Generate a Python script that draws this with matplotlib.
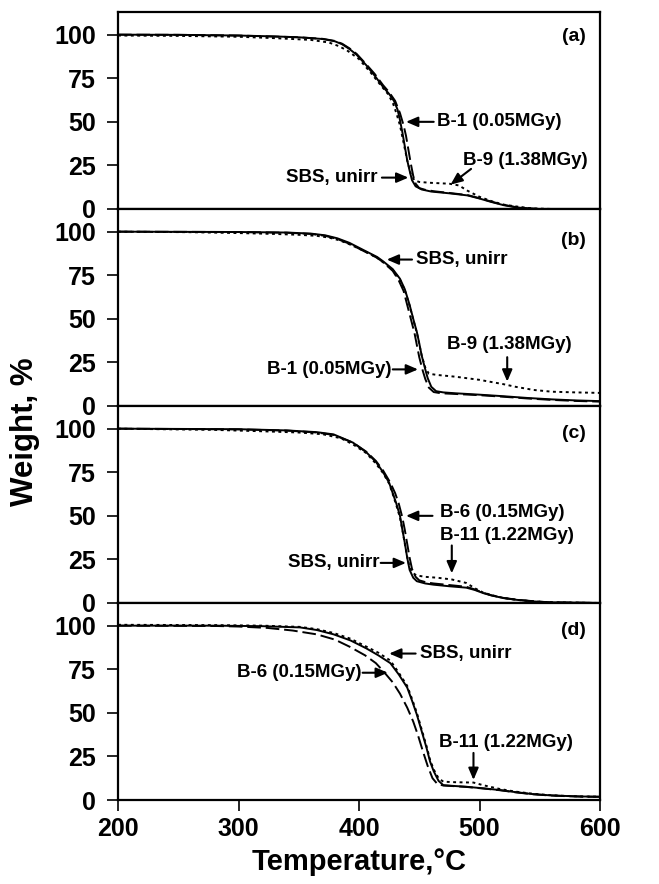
import matplotlib
matplotlib.use("Agg")
import matplotlib.pyplot as plt

plt.rcParams['font.family'] = ['Liberation Sans', 'DejaVu Sans']
plt.rcParams['font.weight'] = 'bold'

# ---- data (temperature in C, weight in %) ----
# panel (a): SBS unirr / B-1 (0.05MGy) / B-9 (1.38MGy)
a_sbs_t = [200, 250, 300, 330, 350, 370, 380, 386, 392, 398, 406, 413, 420, 425, 429, 432, 434, 436, 438, 440, 442, 444, 447, 452, 460, 475, 490, 500, 510, 520, 530, 540, 550, 600]
a_sbs_w = [100, 99.9, 99.5, 99, 98.5, 97.5, 96.2, 94.5, 91.8, 88.5, 82.5, 76.5, 70, 66, 62, 57, 51, 44, 36, 28, 22, 16.5, 13, 11.2, 10, 9, 7.8, 6, 4, 2.2, 1, 0.3, 0, 0]
a_b1_t = [200, 250, 300, 350, 370, 380, 386, 392, 398, 406, 413, 420, 425, 430, 434, 437, 439, 441, 443, 445, 447, 450, 455, 462, 475, 490, 500, 510, 520, 530, 540, 550, 600]
a_b1_w = [100, 99.9, 99.5, 98.5, 97.6, 96.4, 94.8, 92.2, 89, 83, 77.5, 71, 67, 62, 55, 48, 42, 34, 26, 19, 14.5, 12, 11, 10.2, 9.2, 8, 6.2, 4.2, 2.4, 1.1, 0.4, 0, 0]
a_b9_t = [200, 250, 300, 330, 360, 375, 383, 390, 400, 410, 418, 424, 428, 431, 434, 437, 440, 443, 446, 450, 460, 475, 483, 490, 500, 510, 520, 530, 540, 550, 560, 600]
a_b9_w = [99.5, 99.3, 98.8, 98, 97, 95.5, 93.5, 91, 86, 78, 71, 66, 61, 55, 48, 38, 28, 20, 16.5, 15.5, 15, 14.5, 13.5, 10.5, 7, 4.5, 2.5, 1.5, 0.6, 0.2, 0, 0]

# panel (b): SBS unirr / B-1 (0.05MGy) / B-9 (1.38MGy)
b_sbs_t = [200, 300, 340, 360, 372, 382, 392, 405, 415, 420, 428, 434, 438, 442, 445, 448, 450, 452, 455, 457, 460, 464, 470, 480, 500, 520, 540, 560, 580, 600]
b_sbs_w = [100, 99.8, 99.5, 98.9, 97.9, 96.2, 93.6, 89, 85.5, 83, 78.5, 73, 67, 58, 50, 42.5, 36, 29, 21, 16, 11, 8.5, 7.8, 7.3, 6.5, 5.6, 4.6, 3.8, 3.2, 2.8]
b_b1_t = [200, 300, 340, 360, 372, 382, 392, 405, 415, 420, 428, 433, 437, 440, 443, 446, 448, 450, 453, 455, 458, 462, 468, 480, 500, 520, 540, 560, 580, 600]
b_b1_w = [100, 99.8, 99.4, 98.7, 97.6, 95.8, 93.1, 88.5, 85, 82.5, 77.5, 72, 66, 58, 50, 42, 35, 28, 20, 15.5, 10.5, 8, 7.3, 6.9, 6.2, 5.3, 4.3, 3.5, 2.9, 2.5]
b_b9_t = [200, 260, 300, 330, 350, 365, 375, 384, 392, 405, 415, 420, 428, 434, 438, 442, 445, 448, 450, 452, 455, 458, 465, 480, 500, 520, 530, 545, 560, 580, 600]
b_b9_w = [100, 99.7, 99.2, 98.7, 98.2, 97.6, 96.6, 95, 92.8, 88.7, 85, 82.5, 78, 72.5, 66.5, 57.5, 49.5, 42, 35.5, 29, 22, 18.5, 17.8, 16.8, 15, 12.5, 11, 9.2, 8.2, 7.8, 7.5]

# panel (c): SBS unirr / B-6 (0.15MGy) / B-11 (1.22MGy)
c_sbs_t = [200, 300, 340, 365, 379, 395, 406, 414, 420, 425, 428, 431, 434, 436, 438, 440, 442, 445, 448, 455, 462, 475, 489, 496, 503, 510, 520, 531, 545, 558, 600]
c_sbs_w = [100, 99.7, 99, 98, 96.7, 92, 86.5, 81, 75, 69, 63, 57, 50, 42, 34.5, 26, 19, 14.5, 12.5, 11.2, 10.5, 9.6, 8.8, 7.5, 5.7, 4.3, 2.8, 1.8, 0.9, 0.4, 0]
c_b6_t = [200, 300, 340, 365, 379, 395, 406, 414, 420, 426, 430, 433, 436, 438, 440, 442, 444, 447, 450, 456, 462, 475, 489, 496, 503, 510, 520, 531, 545, 558, 600]
c_b6_w = [100, 99.6, 98.9, 97.8, 96.4, 92, 86.8, 81.5, 76, 69, 63, 57, 49, 42, 34, 26, 19.5, 15, 13, 11.8, 11.2, 10.3, 9.3, 7.8, 5.9, 4.4, 2.9, 1.9, 1, 0.4, 0]
c_b11_t = [200, 280, 320, 350, 370, 385, 395, 406, 414, 420, 425, 428, 431, 434, 436, 438, 440, 442, 445, 448, 455, 465, 477, 489, 496, 503, 510, 520, 531, 545, 558, 600]
c_b11_w = [100, 99.3, 98.5, 97.8, 96.8, 94.5, 91, 86, 80, 74.5, 68.5, 62.5, 56, 49, 42, 34, 26.5, 20.5, 17, 15.8, 15, 14.5, 13.5, 11.5, 8.5, 6, 4.5, 2.9, 1.8, 0.9, 0.4, 0]

# panel (d): SBS unirr / B-6 (0.15MGy) / B-11 (1.22MGy)
d_sbs_t = [200, 282, 320, 351, 365, 379, 393, 406, 416, 426, 433, 440, 444, 448, 452, 456, 459, 462, 466, 470, 480, 489, 503, 517, 530, 544, 558, 572, 586, 600]
d_sbs_w = [100, 100, 99.7, 99, 97.5, 95, 91.5, 87, 83, 78.5, 72, 64.5, 57, 49, 39.5, 30, 22, 16.5, 11, 8.5, 8, 7.6, 6.7, 5.7, 4.5, 3.4, 2.7, 2.3, 2, 1.9]
d_b6_t = [200, 282, 300, 324, 345, 365, 380, 392, 405, 414, 420, 428, 434, 440, 445, 449, 453, 457, 461, 465, 470, 480, 489, 503, 517, 530, 544, 558, 572, 586, 600]
d_b6_w = [100, 99.8, 99.5, 98.7, 97.2, 95, 92, 88, 83, 78.5, 74, 67.5, 61, 53, 45, 37, 28, 19.5, 12.5, 9.2, 8.3, 7.9, 7.5, 6.6, 5.6, 4.4, 3.3, 2.6, 2.2, 1.9, 1.8]
d_b11_t = [200, 282, 320, 351, 365, 379, 393, 406, 416, 426, 433, 440, 444, 448, 452, 456, 459, 462, 466, 470, 480, 495, 503, 517, 530, 544, 558, 572, 586, 600]
d_b11_w = [100.5, 100.3, 100, 99.3, 98, 95.8, 92.5, 88, 84.5, 80, 73, 65.5, 58, 50, 40.5, 31, 23, 17.5, 12.5, 10.5, 10.2, 10, 8.5, 6.3, 4.8, 3.6, 2.8, 2.3, 2, 1.9]

panel_tags = ['(a)', '(b)', '(c)', '(d)']
tag_y = [99, 95, 97.5, 97]
y_ticks = [0, 25, 50, 75, 100]
x_ticks = [200, 300, 400, 500, 600]

# annotations: (label, text x, text y, ha, arrow tail, arrow head)
notes = [
    [('B-1 (0.05MGy)', 465, 50, 'left', (462, 50), (439, 50)),
     ('B-9 (1.38MGy)', 486, 28, 'left', (493, 23), (476, 14)),
     ('SBS, unirr', 415, 18, 'right', (419, 18), (441, 18))],
    [('SBS, unirr', 447, 84, 'left', (444, 84), (423, 84)),
     ('B-9 (1.38MGy)', 473, 35, 'left', (523, 28), (523, 14)),
     ('B-1 (0.05MGy)', 427, 21, 'right', (428, 21), (449, 21))],
    [('B-6 (0.15MGy)', 467, 52, 'left', (461, 50), (439, 50)),
     ('B-11 (1.22MGy)', 467, 39, 'left', (477, 33), (477, 17)),
     ('SBS, unirr', 417, 23, 'right', (418, 23), (439, 23))],
    [('SBS, unirr', 451, 84, 'left', (447, 84), (425, 84)),
     ('B-6 (0.15MGy)', 402, 73, 'right', (403, 73), (424, 73)),
     ('B-11 (1.22MGy)', 466, 33, 'left', (495, 27), (495, 11.5))],
]

curves = [
    [(a_sbs_t, a_sbs_w), (a_b1_t, a_b1_w), (a_b9_t, a_b9_w)],
    [(b_sbs_t, b_sbs_w), (b_b1_t, b_b1_w), (b_b9_t, b_b9_w)],
    [(c_sbs_t, c_sbs_w), (c_b6_t, c_b6_w), (c_b11_t, c_b11_w)],
    [(d_sbs_t, d_sbs_w), (d_b6_t, d_b6_w), (d_b11_t, d_b11_w)],
]
styles = ['-', (0, (7, 2.5)), (0, (1.5, 1.8))]

fig, axes = plt.subplots(4, 1, figsize=(6.59, 8.84), dpi=100, sharex=True)
fig.subplots_adjust(left=118/659, right=600/659, top=1-12/884, bottom=1-800/884, hspace=0)

for i, ax in enumerate(axes):
    for (t, w), ls in zip(curves[i], styles):
        ax.plot(t, w, color='black', lw=1.4, linestyle=ls)
    ax.set_xlim(200, 600)
    ax.set_ylim(0, 113)
    ax.set_yticks(y_ticks)
    ax.tick_params(axis='y', direction='out', length=8, width=1.2, pad=8, labelsize=18)
    for s in ax.spines.values():
        s.set_linewidth(1.6)
    ax.text(588, tag_y[i], panel_tags[i], ha='right', va='center', fontsize=14, fontweight='bold')
    for lab, tx, ty, ha, tail, head in notes[i]:
        ax.text(tx, ty, lab, ha=ha, va='center', fontsize=13.5, fontweight='bold')
        ax.annotate('', xy=head, xytext=tail,
                    arrowprops=dict(arrowstyle='-|>,head_length=0.7,head_width=0.3',
                                    color='black', lw=1.5, shrinkA=0, shrinkB=0))
    if i < 3:
        ax.tick_params(axis='x', length=0, labelbottom=False)

axes[-1].set_xticks(x_ticks)
axes[-1].tick_params(axis='x', direction='out', length=8, width=1.2, pad=4, labelsize=18)

fig.text(359/659, 1-862/884, 'Temperature,°C', ha='center', va='center', fontsize=21, fontweight='bold')
fig.text(25/659, 1-432/884, 'Weight, %', ha='center', va='center', rotation=90, fontsize=22.5, fontweight='bold')

fig.savefig('out.png', dpi=100)
